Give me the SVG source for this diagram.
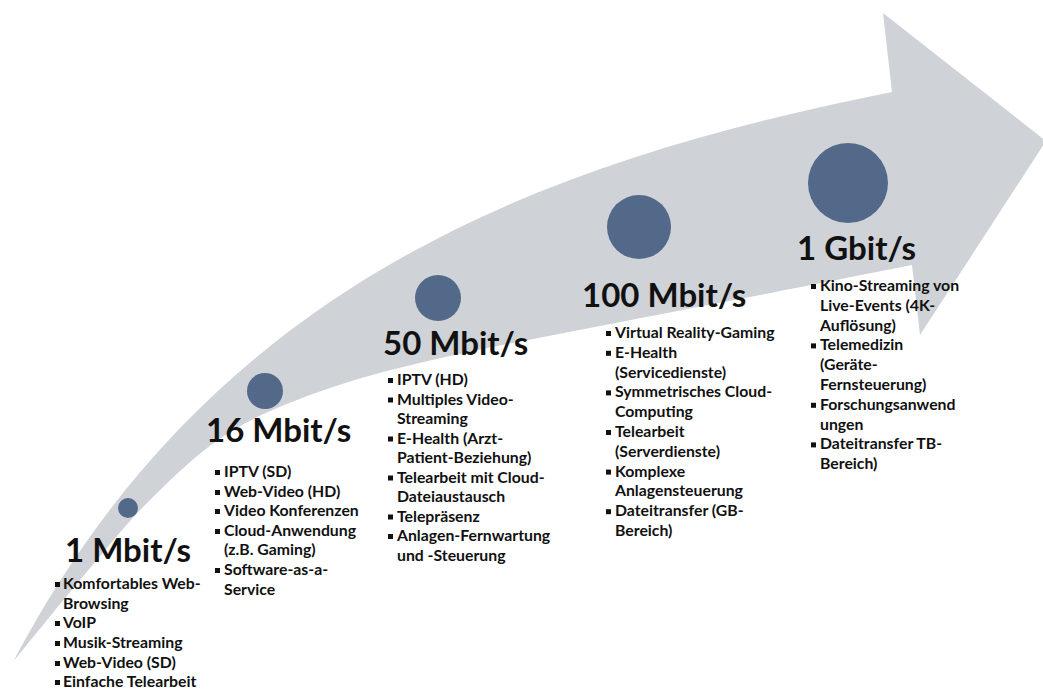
<svg xmlns="http://www.w3.org/2000/svg" width="1043" height="690" viewBox="0 0 1043 690">
<style>
.arrow{fill:#CFD2D7}
.dot{fill:#52698A}
.t{font-family:Lato,"Open Sans","Liberation Sans",sans-serif;font-weight:700;font-size:33px;fill:#111}
.l{font-family:Lato,"Open Sans","Liberation Sans",sans-serif;font-weight:700;font-size:15.8px;fill:#111}
.b{fill:#111}
</style>
<rect width="1043" height="690" fill="#fff"/>
<g id="arrow">
<path class="arrow" d="M13,662 C213,282 542,162 892,92 L883,13 L1046,141 L920,335 L912,265 C886.7,270 812,284.8 760,295 C708,305.2 651.7,315.8 600,326 C548.3,336.2 495,345.7 450,356 C405,366.3 366.7,375.3 330,388 C293.3,400.7 260,413.3 230,432 C200,450.7 175,475.3 150,500 C125,524.7 102.8,553 80,580 C57.2,607 24.2,648.3 13,662 Z"/>
</g>
<g id="connectors"></g>
<g id="node-1mbit">
<circle class="dot" cx="128" cy="508" r="10"/>
<text class="t" x="65" y="562">1 Mbit/s</text>
<rect class="b" x="55" y="582" width="5" height="5"/>
<rect class="b" x="55" y="621" width="5" height="5"/>
<rect class="b" x="55" y="641" width="5" height="5"/>
<rect class="b" x="55" y="661" width="5" height="5"/>
<rect class="b" x="55" y="680" width="5" height="5"/>
<text class="l"><tspan x="63" y="589">Komfortables Web-</tspan><tspan x="63" y="609">Browsing</tspan><tspan x="63" y="628">VoIP</tspan><tspan x="63" y="648">Musik-Streaming</tspan><tspan x="63" y="668">Web-Video (SD)</tspan><tspan x="63" y="687">Einfache Telearbeit</tspan></text>
</g>
<g id="node-16mbit">
<circle class="dot" cx="265" cy="391" r="18"/>
<text class="t" x="206" y="442">16 Mbit/s</text>
<rect class="b" x="215" y="470" width="5" height="5"/>
<rect class="b" x="215" y="490" width="5" height="5"/>
<rect class="b" x="215" y="509" width="5" height="5"/>
<rect class="b" x="215" y="529" width="5" height="5"/>
<rect class="b" x="215" y="568" width="5" height="5"/>
<text class="l"><tspan x="224" y="477">IPTV (SD)</tspan><tspan x="224" y="497">Web-Video (HD)</tspan><tspan x="224" y="516">Video Konferenzen</tspan><tspan x="224" y="536">Cloud-Anwendung</tspan><tspan x="224" y="555">(z.B. Gaming)</tspan><tspan x="224" y="575">Software-as-a-</tspan><tspan x="224" y="595">Service</tspan></text>
</g>
<g id="node-50mbit">
<circle class="dot" cx="438" cy="298" r="23"/>
<text class="t" x="383" y="355">50 Mbit/s</text>
<rect class="b" x="388" y="378" width="5" height="5"/>
<rect class="b" x="388" y="397.5" width="5" height="5"/>
<rect class="b" x="388" y="436.5" width="5" height="5"/>
<rect class="b" x="388" y="475.5" width="5" height="5"/>
<rect class="b" x="388" y="514.5" width="5" height="5"/>
<rect class="b" x="388" y="534" width="5" height="5"/>
<text class="l"><tspan x="397" y="385">IPTV (HD)</tspan><tspan x="397" y="404.5">Multiples Video-</tspan><tspan x="397" y="424">Streaming</tspan><tspan x="397" y="443.5">E-Health (Arzt-</tspan><tspan x="397" y="463">Patient-Beziehung)</tspan><tspan x="397" y="482.5">Telearbeit mit Cloud-</tspan><tspan x="397" y="502">Dateiaustausch</tspan><tspan x="397" y="521.5">Telepräsenz</tspan><tspan x="397" y="541">Anlagen-Fernwartung</tspan><tspan x="397" y="560.5">und -Steuerung</tspan></text>
</g>
<g id="node-100mbit">
<circle class="dot" cx="639" cy="227" r="32"/>
<text class="t" x="582" y="307">100 Mbit/s</text>
<rect class="b" x="606" y="331" width="5" height="5"/>
<rect class="b" x="606" y="350.8" width="5" height="5"/>
<rect class="b" x="606" y="390.4" width="5" height="5"/>
<rect class="b" x="606" y="430" width="5" height="5"/>
<rect class="b" x="606" y="469.6" width="5" height="5"/>
<rect class="b" x="606" y="509.2" width="5" height="5"/>
<text class="l"><tspan x="615" y="338">Virtual Reality-Gaming</tspan><tspan x="615" y="357.8">E-Health</tspan><tspan x="615" y="377.6">(Servicedienste)</tspan><tspan x="615" y="397.4">Symmetrisches Cloud-</tspan><tspan x="615" y="417.2">Computing</tspan><tspan x="615" y="437">Telearbeit</tspan><tspan x="615" y="456.8">(Serverdienste)</tspan><tspan x="615" y="476.6">Komplexe</tspan><tspan x="615" y="496.4">Anlagensteuerung</tspan><tspan x="615" y="516.2">Dateitransfer (GB-</tspan><tspan x="615" y="536">Bereich)</tspan></text>
</g>
<g id="node-1gbit">
<circle class="dot" cx="848" cy="183" r="40"/>
<text class="t" x="797" y="260">1 Gbit/s</text>
<rect class="b" x="811" y="284" width="5" height="5"/>
<rect class="b" x="811" y="343.4" width="5" height="5"/>
<rect class="b" x="811" y="402.8" width="5" height="5"/>
<rect class="b" x="811" y="442.4" width="5" height="5"/>
<text class="l"><tspan x="820" y="291">Kino-Streaming von</tspan><tspan x="820" y="310.8">Live-Events (4K-</tspan><tspan x="820" y="330.6">Auflösung)</tspan><tspan x="820" y="350.4">Telemedizin</tspan><tspan x="820" y="370.2">(Geräte-</tspan><tspan x="820" y="390">Fernsteuerung)</tspan><tspan x="820" y="409.8">Forschungsanwend</tspan><tspan x="820" y="429.6">ungen</tspan><tspan x="820" y="449.4">Dateitransfer TB-</tspan><tspan x="820" y="469.2">Bereich)</tspan></text>
</g>
</svg>
